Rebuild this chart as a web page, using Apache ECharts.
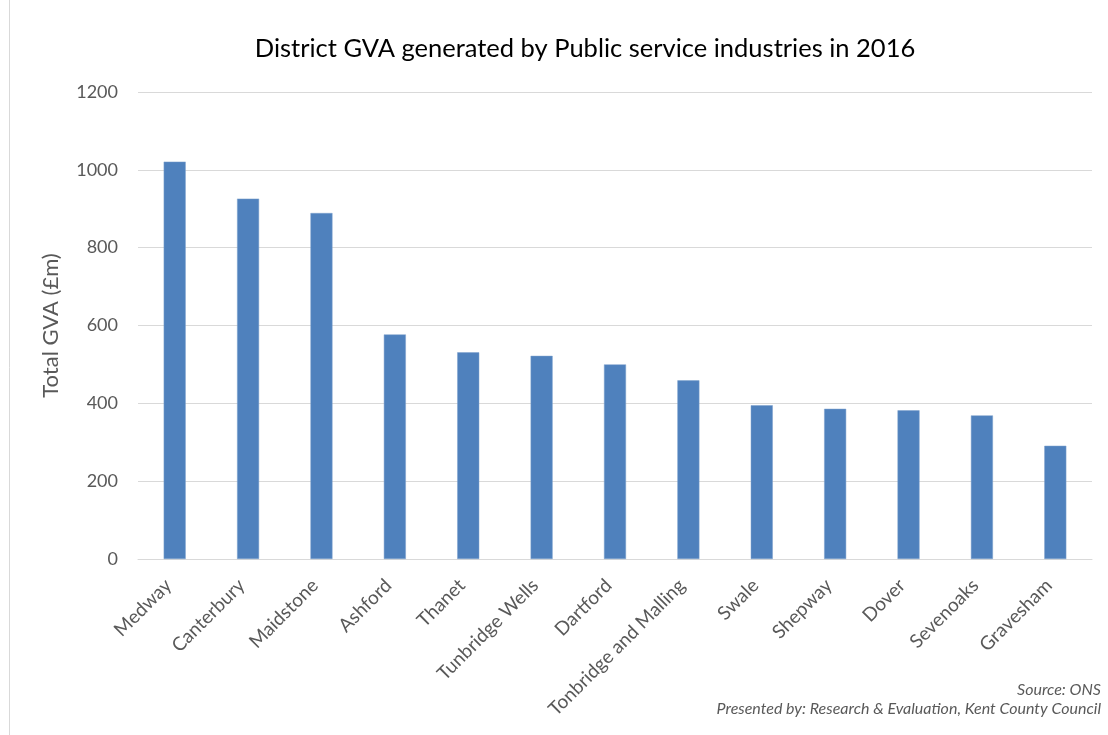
<!DOCTYPE html>
<html>
<head>
<meta charset="utf-8">
<script src="https://cdn.jsdelivr.net/npm/echarts@6/dist/echarts.min.js"></script>
<style>
  html, body { margin: 0; padding: 0; background: #fff; }
  #chart { width: 1108px; height: 735px; }
</style>
</head>
<body>
<div id="chart"></div>
<script>
// District GVA from public service industries, 2016 (£m)
const districts = ['Medway', 'Canterbury', 'Maidstone', 'Ashford', 'Thanet', 'Tunbridge Wells',
  'Dartford', 'Tonbridge and Malling', 'Swale', 'Shepway', 'Dover', 'Sevenoaks', 'Gravesham'];
const gvaValues = [1021, 926, 889, 577, 531, 522, 500, 459, 395, 386, 382, 369, 291];
const yTicks = [0, 200, 400, 600, 800, 1000, 1200];

const FONT = 'Lato, "Open Sans", sans-serif';
const chart = echarts.init(document.getElementById('chart'));
chart.setOption({
  backgroundColor: '#ffffff',
  animation: false,
  title: {
    text: 'District GVA generated by Public service industries in 2016',
    left: 580, top: 31, textAlign: 'center',
    textStyle: { fontFamily: FONT, fontSize: 25.5, fontWeight: 'normal', color: '#000000' }
  },
  grid: { left: 138, right: 16, top: 92, bottom: 176 },
  xAxis: {
    type: 'category',
    data: districts,
    axisLine: { lineStyle: { color: '#d9d9d9', width: 1 } },
    axisTick: { show: false },
    axisLabel: {
      rotate: 45, interval: 0, margin: 17, padding: [0, 9, 0, 0],
      fontFamily: FONT, fontSize: 19, color: '#595959'
    }
  },
  yAxis: {
    type: 'value',
    min: yTicks[0], max: yTicks[yTicks.length - 1], interval: 200,
    name: 'Total GVA (£m)',
    nameLocation: 'middle', nameGap: 76, nameRotate: 90,
    nameTextStyle: { fontFamily: FONT, fontSize: 22, color: '#595959' },
    axisLine: { show: false },
    axisTick: { show: false },
    splitLine: { lineStyle: { color: '#d9d9d9', width: 1 } },
    axisLabel: {
      margin: 20, fontFamily: FONT, fontSize: 18, color: '#595959',
      formatter: v => String(v)
    }
  },
  series: [{
    type: 'bar',
    data: gvaValues,
    barWidth: '30%',
    itemStyle: { color: '#4f81bd', borderColor: '#7da0cc', borderWidth: 0.5 }
  }],
  graphic: [
    { type: 'line', shape: { x1: 9.5, y1: 0, x2: 9.5, y2: 735 }, style: { stroke: '#d9d9d9', lineWidth: 1 } },
    { type: 'text', right: 7, top: 682,
      style: { text: 'Source: ONS', font: 'italic 16px ' + FONT, fill: '#595959', textAlign: 'right' } },
    { type: 'text', right: 7, top: 701,
      style: { text: 'Presented by: Research & Evaluation, Kent County Council', font: 'italic 16px ' + FONT, fill: '#595959', textAlign: 'right' } }
  ]
});
</script>
</body>
</html>
